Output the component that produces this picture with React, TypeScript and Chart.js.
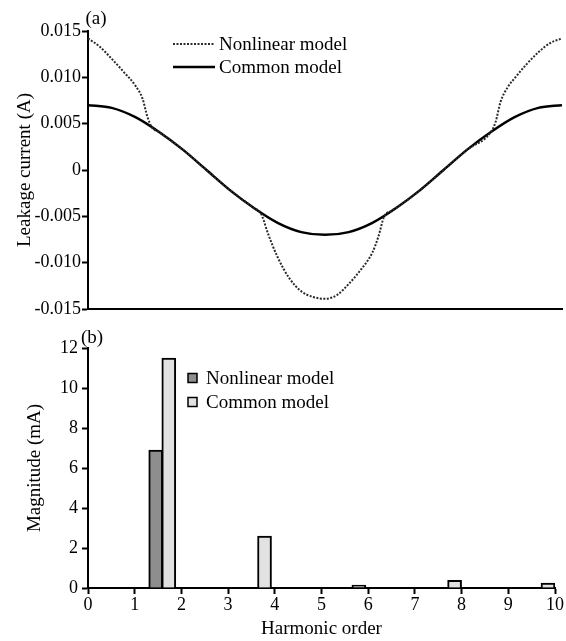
import React, { useEffect, useRef } from "react";
import { Chart, registerables } from "chart.js";

Chart.register(...registerables);

// ---- Panel (a): leakage current over one period (time in ms) ----
const commonTime = [0, 1, 2, 3, 4, 5, 6, 7, 8, 9, 10, 11, 12, 13, 14, 15, 16, 17, 18, 19, 20];
const commonCurrent = [
  0.007, 0.0067, 0.0057, 0.0041, 0.0022, 0.0, -0.0022, -0.0041, -0.0057, -0.0067, -0.007,
  -0.0067, -0.0057, -0.0041, -0.0022, 0.0, 0.0022, 0.0041, 0.0057, 0.0067, 0.007,
];
const nonlinearTime = [
  0, 0.5, 1.0, 1.5, 2.0, 2.3, 2.5, 2.7, 3.0, 4.0, 5.0, 6.0, 7.0, 7.3, 7.6, 8.0, 8.5, 9.0, 9.5,
  10.0, 10.5, 11.0, 11.5, 12.0, 12.25, 12.5, 12.8, 13.0, 14.0, 15.0, 16.0, 17.0, 17.2, 17.4,
  17.7, 18.0, 18.5, 19.0, 19.5, 20,
];
const nonlinearCurrent = [
  0.0142, 0.0133, 0.012, 0.0106, 0.0091, 0.0077, 0.0058, 0.0046, 0.0041, 0.0022, 0.0, -0.0022,
  -0.0041, -0.0047, -0.0069, -0.0094, -0.0117, -0.0131, -0.0137, -0.0139, -0.0135, -0.0123,
  -0.0108, -0.0089, -0.0072, -0.005, -0.0044, -0.0041, -0.0022, 0.0, 0.0022, 0.0041, 0.0052,
  0.0073, 0.0089, 0.0099, 0.0114, 0.0127, 0.0137, 0.0142,
];
const currentTicks = [-0.015, -0.01, -0.005, 0, 0.005, 0.01, 0.015];
const currentTickLabels = ["-0.015", "-0.010", "-0.005", "0", "0.005", "0.010", "0.015"];

// ---- Panel (b): harmonic spectrum ----
const nonlinearOrders = [1.45, 5.8];
const nonlinearMagnitude = [6.9, 0.15];
const commonOrders = [1.73, 3.78, 7.85, 9.85];
const commonMagnitude = [11.5, 2.6, 0.38, 0.25];
const harmonicTicks = [0, 1, 2, 3, 4, 5, 6, 7, 8, 9, 10];
const magnitudeTicks = [0, 2, 4, 6, 8, 10, 12];

const seriesNames = ["Nonlinear model", "Common model"];
const panelLabels = ["(a)", "(b)"];

const FONT = "'Liberation Serif', 'Times New Roman', serif";

const annotatePlugin = {
  id: "annotate",
  afterDraw(chart: any, _args: any, opts: any) {
    const ctx = chart.ctx;
    ctx.save();
    ctx.fillStyle = "#000";
    ctx.font = `${opts.fontSize}px ${FONT}`;
    ctx.textBaseline = "middle";
    ctx.textAlign = "center";
    ctx.fillText(opts.panel, opts.panelX, opts.panelY);
    ctx.textAlign = "left";
    chart.data.datasets.forEach((ds: any, i: number) => {
      const y = opts.legendY + i * opts.rowHeight;
      if (opts.kind === "line") {
        ctx.beginPath();
        ctx.strokeStyle = ds.borderColor;
        ctx.lineWidth = ds.borderWidth;
        ctx.setLineDash(ds.borderDash || []);
        ctx.moveTo(opts.legendX, y);
        ctx.lineTo(opts.legendX + opts.sample, y);
        ctx.stroke();
        ctx.setLineDash([]);
      } else {
        ctx.fillStyle = ds.backgroundColor;
        ctx.fillRect(opts.legendX, y - opts.sample / 2, opts.sample, opts.sample);
        ctx.strokeStyle = "#000";
        ctx.lineWidth = 1.5;
        ctx.strokeRect(opts.legendX, y - opts.sample / 2, opts.sample, opts.sample);
      }
      ctx.fillStyle = "#000";
      ctx.fillText(ds.label, opts.legendX + opts.sample + opts.gap, y + 1);
    });
    ctx.restore();
  },
};

const axisCommon = {
  border: { display: true, color: "#000", width: 2 },
  grid: { drawOnChartArea: false, drawTicks: true, tickLength: 6, tickColor: "#000", tickWidth: 2 },
};

export default function App() {
  const topRef = useRef<HTMLCanvasElement>(null);
  const botRef = useRef<HTMLCanvasElement>(null);

  useEffect(() => {
    const top = new Chart(topRef.current as HTMLCanvasElement, {
      type: "line",
      data: {
        datasets: [
          {
            label: seriesNames[0],
            data: nonlinearTime.map((t, i) => ({ x: t, y: nonlinearCurrent[i] })),
            borderColor: "#2a2a2a",
            borderWidth: 2,
            borderDash: [2, 1.5],
            pointRadius: 0,
            fill: false,
            cubicInterpolationMode: "monotone",
          },
          {
            label: seriesNames[1],
            data: commonTime.map((t, i) => ({ x: t, y: commonCurrent[i] })),
            borderColor: "#000",
            borderWidth: 2.5,
            pointRadius: 0,
            fill: false,
            cubicInterpolationMode: "monotone",
          },
        ],
      },
      options: {
        responsive: false,
        animation: false,
        layout: { padding: { top: 31, right: 4, bottom: 0, left: 0 } },
        plugins: {
          legend: { display: false },
          tooltip: { enabled: false },
          annotate: {
            panel: panelLabels[0],
            panelX: 96,
            panelY: 19,
            fontSize: 19,
            kind: "line",
            legendX: 173,
            legendY: 44,
            rowHeight: 23,
            sample: 42,
            gap: 4,
          },
        } as any,
        scales: {
          x: {
            type: "linear",
            min: 0,
            max: 20,
            border: { display: true, color: "#000", width: 2 },
            grid: { drawOnChartArea: false, drawTicks: false },
            ticks: { display: false },
            afterFit: (s: any) => {
              s.height = 13;
            },
          },
          y: {
            type: "linear",
            min: -0.015,
            max: 0.015,
            ...axisCommon,
            afterBuildTicks: (s: any) => {
              s.ticks = currentTicks.map((v) => ({ value: v }));
            },
            afterFit: (s: any) => {
              s.width = 88;
            },
            ticks: {
              color: "#000",
              padding: 1,
              font: { family: FONT, size: 18 },
              callback: (_v: any, i: number) => currentTickLabels[i],
            },
            title: {
              display: true,
              text: "Leakage current (A)",
              color: "#000",
              font: { family: FONT, size: 19 },
              padding: { top: 14, bottom: 0 },
            },
          },
        },
      },
      plugins: [annotatePlugin],
    } as any);

    const bot = new Chart(botRef.current as HTMLCanvasElement, {
      type: "bar",
      data: {
        datasets: [
          {
            label: seriesNames[0],
            data: nonlinearOrders.map((x, i) => ({ x, y: nonlinearMagnitude[i] })),
            backgroundColor: "#8e8e8e",
            borderColor: "#000",
            borderWidth: 2,
            barThickness: 14,
            grouped: false,
          },
          {
            label: seriesNames[1],
            data: commonOrders.map((x, i) => ({ x, y: commonMagnitude[i] })),
            backgroundColor: "#e2e2e2",
            borderColor: "#000",
            borderWidth: 2,
            barThickness: 14,
            grouped: false,
          },
        ],
      },
      options: {
        responsive: false,
        animation: false,
        layout: { padding: { top: 26, right: 11, bottom: 0, left: 0 } },
        plugins: {
          legend: { display: false },
          tooltip: { enabled: false },
          annotate: {
            panel: panelLabels[1],
            panelX: 92,
            panelY: 16,
            fontSize: 19,
            kind: "box",
            legendX: 188,
            legendY: 56,
            rowHeight: 24,
            sample: 9,
            gap: 9,
          },
        } as any,
        scales: {
          x: {
            type: "linear",
            min: 0,
            max: 10,
            offset: false,
            ...axisCommon,
            grid: { ...axisCommon.grid, offset: false },
            afterBuildTicks: (s: any) => {
              s.ticks = harmonicTicks.map((v) => ({ value: v }));
            },
            afterFit: (s: any) => {
              s.height = 53;
            },
            ticks: {
              color: "#000",
              padding: 0,
              maxRotation: 0,
              font: { family: FONT, size: 18 },
              callback: (v: any) => String(v),
            },
            title: {
              display: true,
              text: "Harmonic order",
              color: "#000",
              font: { family: FONT, size: 19 },
              padding: { top: 0, bottom: 1 },
            },
          },
          y: {
            type: "linear",
            min: 0,
            max: 12,
            ...axisCommon,
            afterBuildTicks: (s: any) => {
              s.ticks = magnitudeTicks.map((v) => ({ value: v }));
            },
            afterFit: (s: any) => {
              s.width = 88;
            },
            ticks: {
              color: "#000",
              padding: 4,
              font: { family: FONT, size: 18 },
              callback: (v: any) => String(v),
            },
            title: {
              display: true,
              text: "Magnitude (mA)",
              color: "#000",
              font: { family: FONT, size: 19 },
              padding: { top: 24, bottom: 0 },
            },
          },
        },
      },
      plugins: [annotatePlugin],
    } as any);

    return () => {
      top.destroy();
      bot.destroy();
    };
  }, []);

  return (
    <div style={{ position: "absolute", left: 0, top: 0, width: 566, height: 641, background: "#fff" }}>
      <canvas ref={topRef} width={566} height={322} style={{ position: "absolute", left: 0, top: 0, display: "block" }} />
      <canvas ref={botRef} width={566} height={319} style={{ position: "absolute", left: 0, top: 322, display: "block" }} />
    </div>
  );
}
